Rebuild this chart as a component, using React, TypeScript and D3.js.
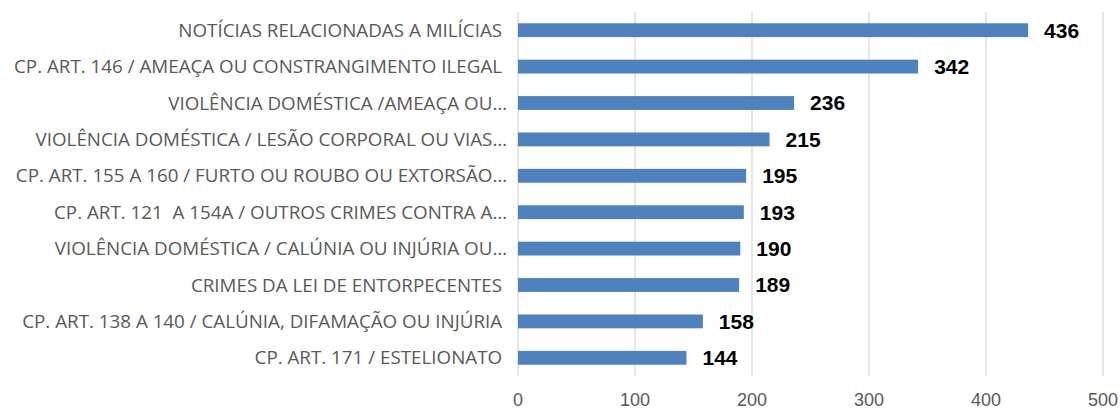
import React, { useRef, useEffect } from 'react';
import * as d3 from 'd3';

const categories = [
    'NOTÍCIAS RELACIONADAS A MILÍCIAS ',
    'CP. ART. 146 / AMEAÇA OU CONSTRANGIMENTO ILEGAL ',
    'VIOLÊNCIA DOMÉSTICA /AMEAÇA OU…',
    'VIOLÊNCIA DOMÉSTICA / LESÃO CORPORAL OU VIAS…',
    'CP. ART. 155 A 160 / FURTO OU ROUBO OU EXTORSÃO…',
    'CP. ART. 121  A 154A / OUTROS CRIMES CONTRA A…',
    'VIOLÊNCIA DOMÉSTICA / CALÚNIA OU INJÚRIA OU…',
    'CRIMES DA LEI DE ENTORPECENTES ',
    'CP. ART. 138 A 140 / CALÚNIA, DIFAMAÇÃO OU INJÚRIA ',
    'CP. ART. 171 / ESTELIONATO ',
];
const values = [436, 342, 236, 215, 195, 193, 190, 189, 158, 144];
const xTicks = [0, 100, 200, 300, 400, 500];

export default function App() {
    const svgRef = useRef<SVGSVGElement | null>(null);

    const width = 1120;
    const height = 414;
    const margin = { top: 12, right: 17, bottom: 38, left: 518 };

    useEffect(() => {
        document.body.style.margin = '0';
        const svg = d3.select(svgRef.current);
        svg.selectAll('*').remove(); // Clear previous content

        const x = d3.scaleLinear().domain([0, 500]).range([margin.left, width - margin.right]);
        const y = d3
            .scaleBand()
            .domain(categories)
            .range([margin.top, height - margin.bottom])
            .paddingInner(0.62)
            .paddingOuter(0.31);

        // gridlines
        svg.append('g')
            .selectAll('line')
            .data(xTicks)
            .enter()
            .append('line')
            .attr('x1', d => x(d))
            .attr('x2', d => x(d))
            .attr('y1', margin.top)
            .attr('y2', height - margin.bottom)
            .attr('stroke', '#d9d9d9')
            .attr('stroke-width', 1.3);

        // tick labels
        svg.append('g')
            .selectAll('text')
            .data(xTicks)
            .enter()
            .append('text')
            .attr('x', d => x(d))
            .attr('y', 406)
            .attr('text-anchor', 'middle')
            .attr('font-family', 'Liberation Sans, Arial, sans-serif')
            .attr('font-size', 18)
            .attr('fill', '#595959')
            .text(d => d);

        // bars
        svg.append('g')
            .selectAll('rect')
            .data(values)
            .enter()
            .append('rect')
            .attr('x', x(0))
            .attr('y', (_, i) => y(categories[i])!)
            .attr('width', d => x(d) - x(0))
            .attr('height', y.bandwidth())
            .attr('fill', '#4f81bd');

        // category labels
        svg.append('g')
            .selectAll('text')
            .data(categories)
            .enter()
            .append('text')
            .attr('x', 507)
            .attr('y', d => y(d)! + y.bandwidth() / 2)
            .attr('dy', '0.35em')
            .attr('text-anchor', 'end')
            .attr('font-family', 'Open Sans, sans-serif')
            .attr('font-size', 18.8)
            .attr('fill', '#595959')
            .style('white-space', 'pre')
            .text(d => d);

        // value labels
        svg.append('g')
            .selectAll('text')
            .data(values)
            .enter()
            .append('text')
            .attr('x', d => x(d) + 16)
            .attr('y', (_, i) => y(categories[i])! + y.bandwidth() / 2)
            .attr('dy', '0.35em')
            .attr('font-family', 'Liberation Sans, Arial, sans-serif')
            .attr('font-weight', 'bold')
            .attr('font-size', 21)
            .attr('fill', '#000')
            .text(d => d);
    }, []);

    return <svg ref={svgRef} width={width} height={height}></svg>;
}
